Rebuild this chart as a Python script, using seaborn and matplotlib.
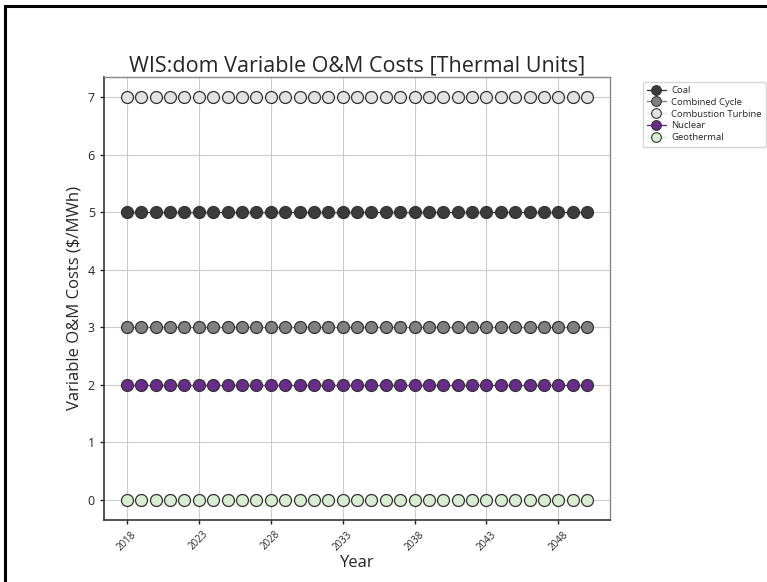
import numpy as np
import pandas as pd
import matplotlib
matplotlib.use("Agg")
import matplotlib.pyplot as plt
from matplotlib.patches import Rectangle
import seaborn as sns

years = list(range(2018, 2051))
technologies = ["Coal", "Combined Cycle", "Combustion Turbine", "Nuclear", "Geothermal"]
vom_cost = [5, 3, 7, 2, 0]
colors = ["#3b3b3b", "#808080", "#e2e2e2", "#6a2c8a", "#d8ecd2"]
tick_years = [2018, 2023, 2028, 2033, 2038, 2043, 2048]

rows = []
for tech, cost in zip(technologies, vom_cost):
    for y in years:
        rows.append({"Year": y, "Technology": tech, "Cost": cost})
df = pd.DataFrame(rows)

sns.set_style("white")
plt.rcParams["font.family"] = ["Open Sans", "DejaVu Sans"]

fig = plt.figure(figsize=(7.67, 5.82), dpi=100)
ax = fig.add_axes([104 / 767, 1 - 520 / 582, (610 - 104) / 767, (520 - 77) / 582])

sns.lineplot(data=df, x="Year", y="Cost", hue="Technology", hue_order=technologies,
             palette=colors, marker="o", markersize=8.6, markeredgecolor="#333333",
             markeredgewidth=0.9, linewidth=1, ax=ax, legend=True)

ax.set_xticks(tick_years)
ax.set_xticklabels([str(t) for t in tick_years], rotation=45, fontsize=7)
ax.tick_params(axis="y", labelsize=9)
ax.tick_params(axis="both", direction="out", length=3, width=1, color="#222222", left=True, bottom=True)
ax.grid(True, color="#cccccc", linewidth=0.8)
ax.set_axisbelow(True)
for side in ["left", "bottom"]:
    ax.spines[side].set_color("#333333")
    ax.spines[side].set_linewidth(1.2)
for side in ["right", "top"]:
    ax.spines[side].set_color("#888888")
    ax.spines[side].set_linewidth(1.0)

ax.set_title("WIS:dom Variable O&M Costs [Thermal Units]", fontsize=15.5, pad=4)
ax.set_xlabel("Year", fontsize=12, labelpad=2)
ax.set_ylabel("Variable O&M Costs ($/MWh)", fontsize=12)

leg = ax.legend(loc="upper left", bbox_to_anchor=(1.055, 1.0), fontsize=6.8,
                frameon=True, handlelength=2.0, borderpad=0.45, labelspacing=0.3,
                handletextpad=0.6)
leg.get_frame().set_edgecolor("#cccccc")
for h, c in zip(leg.legend_handles, colors):
    h.set_markersize(7)
    h.set_marker("o")
    h.set_markerfacecolor(c)
    h.set_markeredgecolor("#333333")
    h.set_markeredgewidth(0.8)
    h.set_linestyle("-")
    h.set_linewidth(1.0)
    h.set_color(c)

# frame around the whole figure
fig.patches.append(Rectangle((5 / 767, -0.05), 1.2, 1 - 5 / 582 + 0.05 - 1 / 582,
                             transform=fig.transFigure, fill=False,
                             edgecolor="black", linewidth=2.2))

fig.savefig("out.png", dpi=100)
